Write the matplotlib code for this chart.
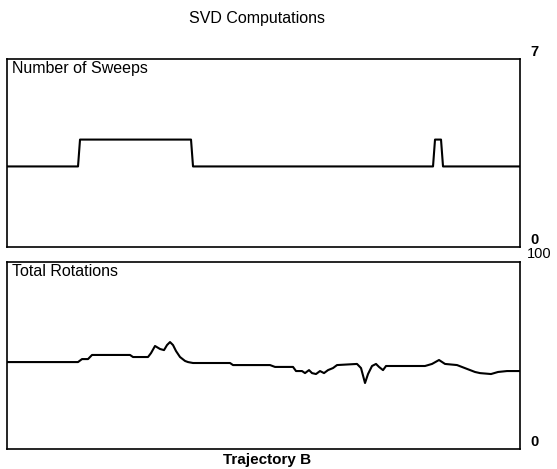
"""
 SVD computations chart: sweeps and total rotations along trajectory B
"""
import matplotlib
matplotlib.use('Agg')
import matplotlib.pyplot as plt

plt.rcParams['font.family'] = ['Liberation Sans', 'DejaVu Sans']

# number of sweeps (step data)
sweep_x = [0, 71, 73, 184, 186, 426, 428, 434, 436, 513]
sweep_y = [3, 3, 4, 4, 3, 3, 4, 4, 3, 3]

# total rotations
rot_x = [0, 71, 75, 81, 85, 123, 126, 141, 144, 148, 153, 157, 160, 163, 166,
         169, 173, 178, 181, 186, 223, 226, 263, 268, 286, 289, 295, 298, 302,
         305, 309, 313, 317, 321, 326, 330, 350, 354, 358, 361, 365, 369, 372,
         376, 379, 393, 418, 425, 432, 438, 450, 468, 473, 484, 491, 500, 513]
rot_y = [46.5, 46.5, 48.1, 48.1, 50.3, 50.3, 49.2, 49.2, 51.3, 55.1, 53.5,
         52.9, 55.6, 57.2, 55.6, 52.4, 49.2, 47.1, 46.5, 46.0, 46.0, 44.9,
         44.9, 43.9, 43.9, 41.7, 41.7, 40.6, 42.2, 40.6, 40.1, 41.7, 40.6,
         42.2, 43.3, 44.9, 45.5, 43.3, 35.3, 40.1, 44.4, 45.5, 43.9, 42.2,
         44.4, 44.4, 44.4, 45.5, 47.6, 45.5, 44.9, 41.2, 40.6, 40.1, 41.2,
         41.7, 41.7]

panels = [
    ("Number of Sweeps", sweep_x, sweep_y, 0, 7, "7", "0"),
    ("Total Rotations", rot_x, rot_y, 0, 100, "100", "0"),
]

fig = plt.figure(figsize=(5.57, 4.69), dpi=100)
rects = [[0.0126, 0.4733, 0.921, 0.4009], [0.0126, 0.0426, 0.921, 0.3987]]

for rect, (label, xs, ys, lo, hi, top_lbl, bot_lbl) in zip(rects, panels):
    ax = fig.add_axes(rect)
    ax.plot(xs, ys, color='black', lw=1.5)
    ax.set_xlim(0, 513)
    ax.set_ylim(lo, hi)
    ax.set_xticks([])
    ax.set_yticks([])
    for s in ax.spines.values():
        s.set_linewidth(1.2)
    ax.text(0.01, 0.99, label, transform=ax.transAxes, ha='left', va='top',
            fontsize=11.5)
    if top_lbl == "7":
        ax.text(1.02, 1.0, top_lbl, transform=ax.transAxes, ha='left',
                va='bottom', fontsize=10.5, fontweight='bold')
    else:
        ax.text(1.013, 1.045, top_lbl, transform=ax.transAxes, ha='left',
                va='center', fontsize=10.5)
    ax.text(1.02, 0.0, bot_lbl, transform=ax.transAxes, ha='left',
            va='bottom', fontsize=10.5, fontweight='bold')

fig.text(257 / 557, 1 - 18 / 469, "SVD Computations", ha='center',
         va='center', fontsize=11.5)
fig.text(267 / 557, 1 - 460 / 469, "Trajectory B", ha='center', va='center',
         fontsize=11, fontweight='bold')

fig.savefig('out.png', dpi=100)
